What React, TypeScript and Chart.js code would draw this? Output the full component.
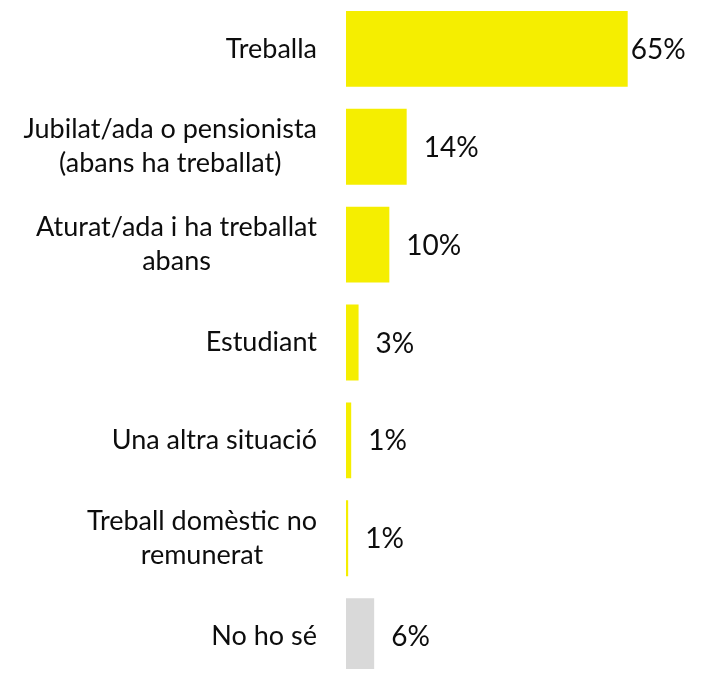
import React, { useEffect, useRef } from "react";
import { Chart, registerables } from "chart.js";

Chart.register(...registerables);

const categories: string[][] = [
  ["Treballa"],
  ["Jubilat/ada o pensionista", "(abans ha treballat)"],
  ["Aturat/ada i ha treballat", "abans"],
  ["Estudiant"],
  ["Una altra situació"],
  ["Treball domèstic no", "remunerat"],
  ["No ho sé"],
];
const values: number[] = [65, 14, 10, 2.9, 1.2, 0.5, 6.5];
const valueLabels: string[] = ["65%", "14%", "10%", "3%", "1%", "1%", "6%"];
const barColors: string[] = ["#F5EE00", "#F5EE00", "#F5EE00", "#F5EE00", "#F5EE00", "#F5EE00", "#D9D9D9"];

const FONT = "27px Lato";
const VALUE_FONT = "28px Lato";
const LINE_H = 34;

const labelPlugin = {
  id: "customLabels",
  afterDatasetsDraw(chart: any) {
    const ctx = chart.ctx;
    const area = chart.chartArea;
    const yScale = chart.scales.y;
    const meta = chart.getDatasetMeta(0);
    ctx.save();
    ctx.font = FONT;
    ctx.fillStyle = "#0d0d0d";
    ctx.textBaseline = "middle";
    // category labels: block right-aligned, lines centred within block
    const rightEdge = area.left - 29;
    categories.forEach((lines, i) => {
      const y = yScale.getPixelForValue(i);
      const maxW = Math.max(...lines.map((l) => ctx.measureText(l).width));
      const cx = rightEdge - maxW / 2;
      ctx.textAlign = "center";
      const startY = y - ((lines.length - 1) * LINE_H) / 2;
      lines.forEach((l, j) => ctx.fillText(l, cx, startY + j * LINE_H));
    });
    // value labels
    ctx.font = VALUE_FONT;
    ctx.textAlign = "left";
    meta.data.forEach((bar: any, i: number) => {
      const t = valueLabels[i];
      const w = ctx.measureText(t).width;
      let x = bar.x + 17;
      const limit = area.right - 9;
      if (x + w > limit) x = Math.max(bar.x + 3, limit - w);
      ctx.fillText(t, x, bar.y + 1);
    });
    ctx.restore();
  },
};

export default function App() {
  const ref = useRef<HTMLCanvasElement | null>(null);
  useEffect(() => {
    if (!ref.current) return;
    const chart = new Chart(ref.current, {
      type: "bar",
      data: {
        labels: categories.map((c) => c.join(" ")),
        datasets: [
          {
            data: values,
            backgroundColor: barColors,
            borderWidth: 0,
            barPercentage: 0.775,
            categoryPercentage: 1,
          },
        ],
      },
      options: {
        indexAxis: "y",
        animation: false,
        responsive: false,
        maintainAspectRatio: false,
        layout: { padding: { left: 346, right: 9.3, top: 0, bottom: 0 } },
        plugins: { legend: { display: false }, tooltip: { enabled: false } },
        scales: {
          x: { display: false, min: 0, max: 80 },
          y: { display: false, offset: true },
        },
      },
      plugins: [labelPlugin],
    });
    return () => chart.destroy();
  }, []);
  return (
    <div style={{ margin: -8, width: 702, height: 677, overflow: "hidden", position: "relative", background: "#fff" }}>
      <canvas ref={ref} width={702} height={685} style={{ position: "absolute", top: 0, left: 0, width: 702, height: 685 }} />
    </div>
  );
}
